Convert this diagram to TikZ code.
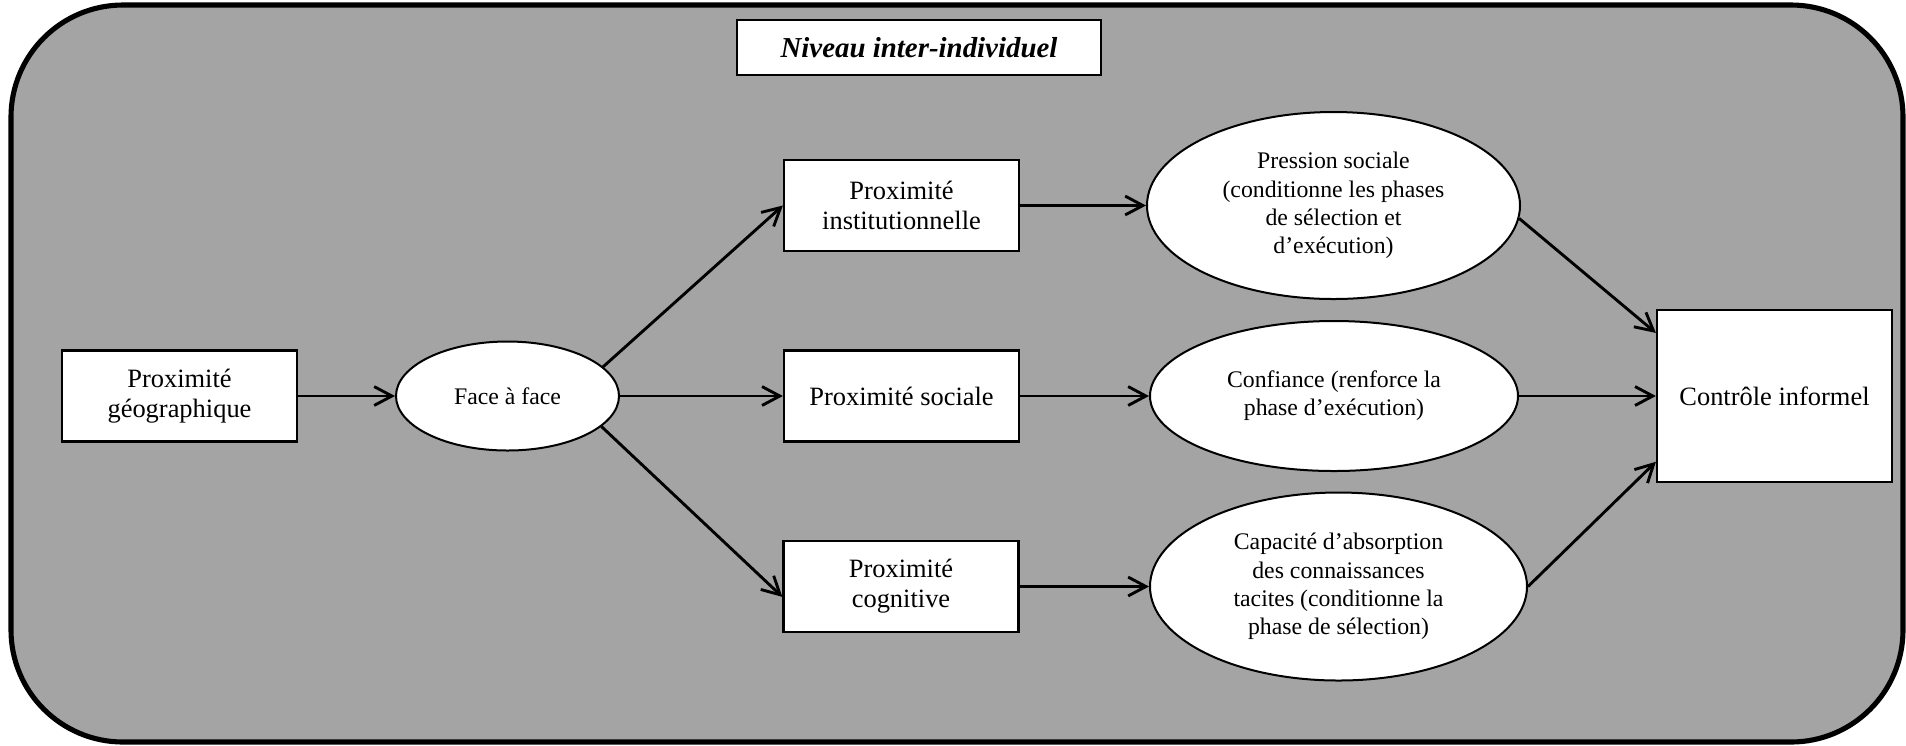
\documentclass[tikz,border=0pt]{standalone}
\usepackage{fontspec}
\setmainfont{Liberation Serif}
\usetikzlibrary{shapes.geometric,arrows.meta}
\definecolor{bggray}{RGB}{164,164,164}
\tikzset{
  boxnode/.style={draw=black, fill=white, line width=1pt, inner sep=0pt, align=center,
    minimum width=105.75pt, minimum height=40.95pt,
    font=\fontsize{11.9pt}{13.6pt}\selectfont},
  ellnode/.style={ellipse, draw=black, fill=white, line width=0.9pt, inner sep=0pt, align=center,
    font=\fontsize{10.7pt}{12.7pt}\selectfont},
  conn/.style={line width=1.3pt, -{Straight Barb[length=8pt,width=8.5pt,line width=1.3pt]}},
}
\begin{document}
\begin{tikzpicture}[x=0.45pt, y=-0.45pt]
\useasboundingbox (0,0) rectangle (1906,745);
\draw[line width=2.3pt, fill=bggray, rounded corners=50.4pt] (11,5) rectangle (1903,742);

\node[draw=black, fill=white, line width=0.9pt, minimum width=163.8pt, minimum height=24.75pt, inner sep=0pt,
  font=\fontsize{13pt}{15pt}\selectfont\bfseries\itshape] (title) at (919,47.5) {Niveau inter-individuel};

\node[boxnode] (geo) at (179.5,396) {Proximité\\géographique};
\node[ellnode, minimum width=100.35pt, minimum height=49.05pt] (face) at (507.5,396) {Face à face};
\node[boxnode] (inst) at (901.5,205.5) {Proximité\\institutionnelle};
\node[boxnode] (soc) at (901.5,396) {Proximité sociale};
\node[boxnode] (cog) at (901,586.5) {Proximité\\cognitive};
\node[ellnode, minimum width=167.85pt, minimum height=84.15pt] (pres) at (1333.5,205.5)
  {Pression sociale\\(conditionne les phases\\de sélection et\\d’exécution)};
\node[ellnode, minimum width=165.6pt, minimum height=67.5pt] (conf) at (1334,396)
  {Confiance (renforce la\\phase d’exécution)};
\node[ellnode, minimum width=169.65pt, minimum height=84.6pt] (cap) at (1338.5,586.5)
  {Capacité d’absorption\\des connaissances\\tacites (conditionne la\\phase de sélection)};
\node[boxnode, minimum height=77.4pt] (ctrl) at (1774.5,396) {Contrôle informel};

\draw[conn] (geo.east) -- (face.west);
\draw[conn] (face.17) -- (inst.west);
\draw[conn] (face.-18) -- (cog.185);
\draw[conn] (face.east) -- (soc.west);
\draw[conn] (inst.east) -- (pres.west);
\draw[conn] (soc.east) -- (conf.west);
\draw[conn] (cog.east) -- (cap.west);
\draw[conn] (pres.-4) -- (ctrl.152.5);
\draw[conn] (conf.east) -- (ctrl.west);
\draw[conn] (cap.east) -- (ctrl.209);
\end{tikzpicture}
\end{document}
